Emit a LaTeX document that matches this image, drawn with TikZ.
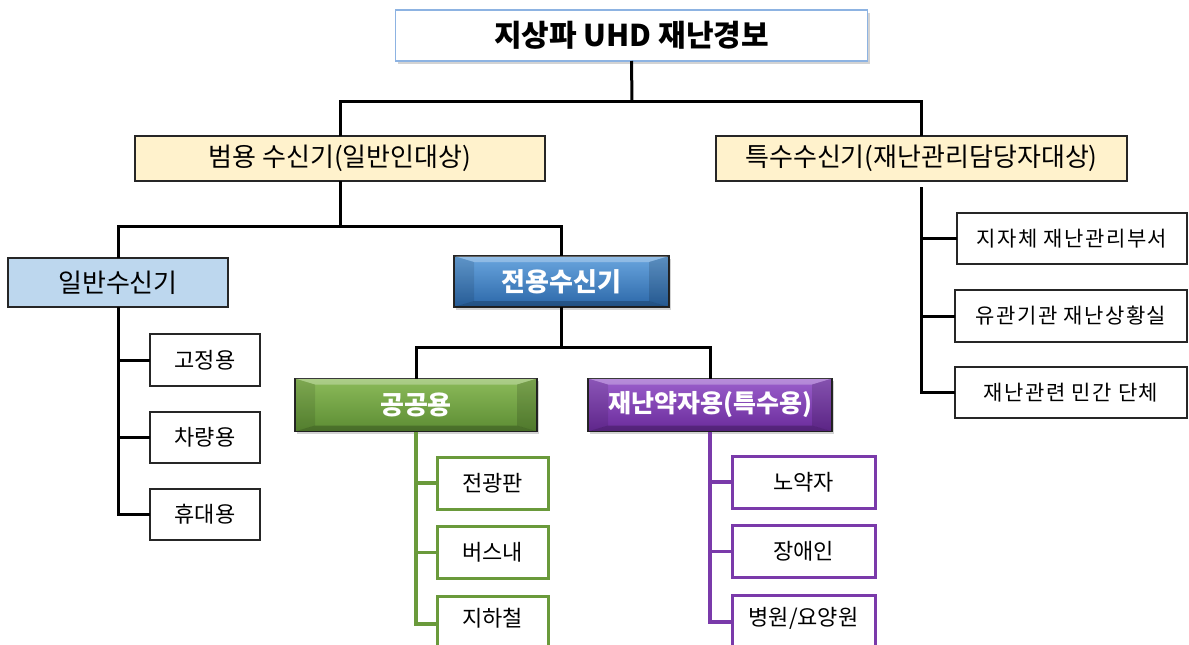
\documentclass[tikz,border=0pt]{standalone}
\usepackage{fontspec}
\setmainfont{Noto Sans CJK KR}
\newfontfamily\spacedkr[LetterSpace=7]{Noto Sans CJK KR}
\usetikzlibrary{shadows,calc}
\definecolor{topborder}{HTML}{8DB3E2}
\definecolor{lyellow}{HTML}{FFF2CC}
\definecolor{lblue}{HTML}{BDD7EE}
\definecolor{bluetop}{HTML}{6AA6DF}
\definecolor{bluebot}{HTML}{2B67A8}
\definecolor{greentop}{HTML}{8CBB5A}
\definecolor{greenbot}{HTML}{5C8C33}
\definecolor{purptop}{HTML}{9B5FCC}
\definecolor{purpbot}{HTML}{6A2B9B}
\definecolor{gline}{HTML}{6A9A3B}
\definecolor{pline}{HTML}{7A3AAA}
\newcommand\bevelfx[1]{%
  \fill[white,opacity=.28] (#1.north west) -- (#1.north east) -- ($(#1.north east)+(-20pt,-6pt)$) -- ($(#1.north west)+(20pt,-6pt)$) -- cycle;
  \fill[black,opacity=.10] (#1.north west) -- ($(#1.north west)+(20pt,-6pt)$) -- ($(#1.south west)+(20pt,6pt)$) -- (#1.south west) -- cycle;
  \fill[black,opacity=.14] (#1.north east) -- ($(#1.north east)+(-20pt,-6pt)$) -- ($(#1.south east)+(-20pt,6pt)$) -- (#1.south east) -- cycle;
  \fill[black,opacity=.22] (#1.south west) -- ($(#1.south west)+(20pt,6pt)$) -- ($(#1.south east)+(-20pt,6pt)$) -- (#1.south east) -- cycle;
}
\tikzset{
  x=1pt, y=-1pt,
  conn/.style={line width=3pt, black},
  gconn/.style={line width=3.5pt, gline},
  pconn/.style={line width=3.5pt, pline},
  basebox/.style={rectangle, inner sep=0pt, outer sep=0pt, align=center},
  shad/.style={drop shadow={opacity=0.35, shadow xshift=2pt, shadow yshift=-2.5pt}},
  topbox/.style={basebox, draw=topborder, line width=1.6pt, fill=white, shad,
     font=\fontsize{30}{34}\selectfont\bfseries},
  midbox/.style={basebox, draw=black!85, line width=1.5pt, fill=lyellow,
     font=\fontsize{26}{30}\selectfont},
  genbox/.style={basebox, draw=black!85, line width=1.5pt, fill=lblue,
     font=\fontsize{26}{30}\selectfont},
  leaf/.style={basebox, draw=black!85, line width=1.5pt, fill=white,
     font=\fontsize{22}{26}\selectfont},
  rleaf/.style={basebox, draw=black!85, line width=1.5pt, fill=white,
     font=\spacedkr\fontsize{21}{25}\selectfont},
  gleaf/.style={leaf, draw=gline, line width=3pt},
  pleaf/.style={leaf, draw=pline, line width=3pt},
  cutleaf/.style={text depth=16pt},
  bevtext/.style={text=white, font=\fontsize{26}{30}\selectfont\bfseries},
  bevbox/.style={basebox, draw=black!85, line width=1.5pt, shad},
  bluebev/.style={bevbox, top color=bluetop, bottom color=bluebot},
  greenbev/.style={bevbox, top color=greentop, bottom color=greenbot},
  purpbev/.style={bevbox, top color=purptop, bottom color=purpbot},
}
\begin{document}
\begin{tikzpicture}
\useasboundingbox (0,0) rectangle (1189,645);
% level 0
\node[topbox, minimum width=472pt, minimum height=51pt] (top) at (631.5,35.5) {지상파 UHD 재난경보};
% level 1
\node[midbox, minimum width=410pt, minimum height=45pt] (beom) at (340,158.5) {범용 수신기(일반인대상)};
\node[midbox, minimum width=411pt, minimum height=45pt] (teuk) at (921.5,158.5) {특수수신기(재난관리담당자대상)};
% level 2
\node[genbox, minimum width=220pt, minimum height=49pt] (ilban) at (118,282.5) {일반수신기};
\node[bluebev, minimum width=215pt, minimum height=51pt] (jeon) at (561.5,281.5) {};
\bevelfx{jeon}
\node[bevtext] (jeont) at (jeon) {전용수신기};
% level 3
\node[greenbev, minimum width=242pt, minimum height=53pt] (gong) at (416,405) {};
\bevelfx{gong}
\node[bevtext] (gongt) at (gong) {공공용};
\node[purpbev, minimum width=244pt, minimum height=53pt] (yak) at (710,405) {};
\bevelfx{yak}
\node[bevtext, font=\fontsize{25}{30}\selectfont\bfseries] (yakt) at (yak) {재난약자용(특수용)};
% leaves general
\node[leaf, minimum width=110pt, minimum height=52pt] (l1) at (205,360) {고정용};
\node[leaf, minimum width=110pt, minimum height=51pt] (l2) at (205,437.5) {차량용};
\node[leaf, minimum width=110pt, minimum height=51pt] (l3) at (205,514.5) {휴대용};
% leaves green
\node[gleaf, minimum width=111pt, minimum height=52pt] (g1) at (492.5,483) {전광판};
\node[gleaf, minimum width=111pt, minimum height=52pt] (g2) at (492.5,552.5) {버스내};
\node[gleaf, cutleaf, minimum width=111pt, minimum height=58pt] (g3) at (492.5,625) {지하철};
% leaves purple
\node[pleaf, minimum width=143pt, minimum height=52pt] (p1) at (803.5,482) {노약자};
\node[pleaf, minimum width=143pt, minimum height=52pt] (p2) at (803.5,551.5) {장애인};
\node[pleaf, cutleaf, minimum width=143pt, minimum height=58pt] (p3) at (803.5,624) {병원/요양원};
% right leaves
\node[rleaf, minimum width=230pt, minimum height=51pt] (r1) at (1072,238.5) {지자체 재난관리부서};
\node[rleaf, minimum width=232pt, minimum height=52pt] (r2) at (1071,316) {유관기관 재난상황실};
\node[rleaf, minimum width=232pt, minimum height=51pt] (r3) at (1071,392.5) {재난관련 민간 단체};

% connectors level 0 -> 1
\coordinate (bus0) at (632,101);
\draw[conn] (top.south) -- (bus0);
\draw[conn] (beom.north) |- (bus0) -| (teuk.north);
% beom -> level 2
\coordinate (bus1) at (340,226);
\draw[conn] (beom.south) -- (bus1);
\draw[conn] (ilban.north) |- (bus1) -| (jeon.north);
% jeon -> level 3
\coordinate (bus2) at (561.5,347);
\draw[conn] (jeon.south) -- (bus2);
\draw[conn] (gong.north) |- (bus2) -| (yak.north);
% ilban -> leaves
\draw[conn] (ilban.south) |- (l3.west);
\draw[conn] (ilban.south |- l1.west) -- (l1.west);
\draw[conn] (ilban.south |- l2.west) -- (l2.west);
% gong -> leaves
\draw[gconn] (gong.south) |- ([yshift=1pt]g3.west);
\draw[gconn] (gong.south |- g1.west) -- (g1.west);
\draw[gconn] (gong.south |- g2.west) -- (g2.west);
% yak -> leaves
\draw[pconn] (yak.south) |- ([yshift=2pt]p3.west);
\draw[pconn] (yak.south |- p1.west) -- (p1.west);
\draw[pconn] (yak.south |- p2.west) -- (p2.west);
% teuk -> right leaves
\draw[conn, shorten <=6pt] (teuk.south) |- (r3.west);
\draw[conn] (teuk.south |- r1.west) -- (r1.west);
\draw[conn] (teuk.south |- r2.west) -- (r2.west);
\end{tikzpicture}
\end{document}
